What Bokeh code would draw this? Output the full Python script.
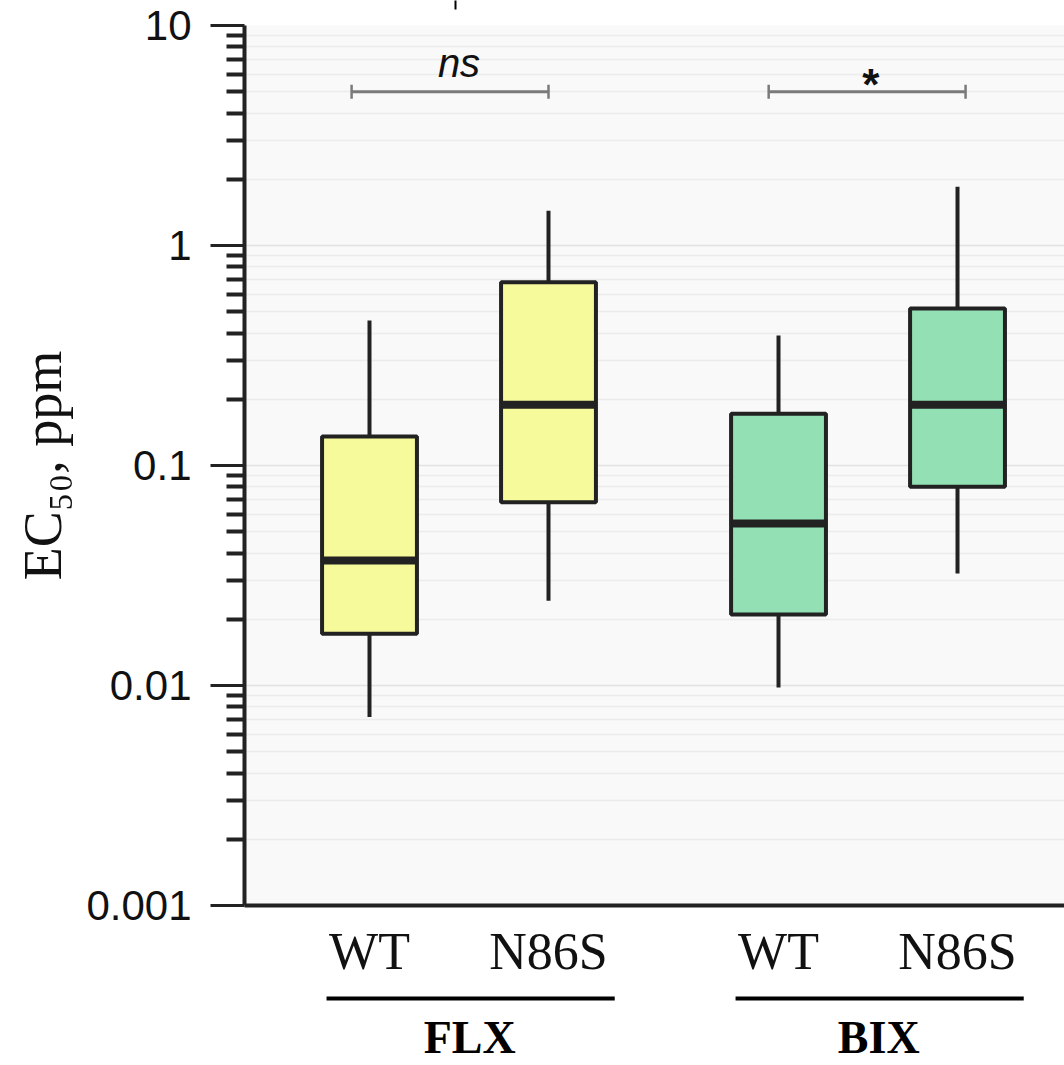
import math
from bokeh.plotting import figure
from bokeh.layouts import column
from bokeh.models import Range1d, FixedTicker, LinearAxis
from bokeh.embed import file_html
from bokeh.resources import INLINE
from bokeh.core.properties import value

# ---------------- data ----------------
groups = ["FLX", "FLX", "BIX", "BIX"]
variants = ["WT", "N86S", "WT", "N86S"]
whisker_low = [0.0072, 0.0243, 0.0098, 0.0323]
q1 = [0.0172, 0.068, 0.021, 0.080]
median = [0.037, 0.189, 0.0545, 0.189]
q3 = [0.1355, 0.68, 0.172, 0.517]
whisker_high = [0.456, 1.44, 0.39, 1.85]

group_names = ["FLX", "BIX"]
group_colors = {"FLX": "#f7fa9b", "BIX": "#93e0b5"}
sig_labels = ["ns", "*"]
sig_level = 5.0

y_tick_values = [0.001, 0.01, 0.1, 1, 10]
y_tick_labels = ["0.001", "0.01", "0.1", "1", "10"]

# ---------------- layout ----------------
W = 1064
top_h = 25            # band above the plot frame
frame_h = 880
axis_h = 85           # x-axis band under the frame
bottom_h = 75         # strip with group underlines / names
left = 244
frame_w = W - left
decades = math.log10(y_tick_values[-1] / y_tick_values[0])
px_per_decade = frame_h / decades
unit_px = 179.0          # pixels per x unit
group_gap = 1.285        # distance between groups (x units)
box_w = 0.53
sig_pad = [(-0.10, 0.0), (-0.055, 0.045)]   # bar end offsets per comparison

xpos = []
cur = 1.0
for i, g in enumerate(groups):
    if i > 0:
        cur += 1.0 if groups[i - 1] == g else group_gap
    xpos.append(cur)

x_start = xpos[0] - 125 / unit_px
x_end = x_start + frame_w / unit_px
xr = Range1d(x_start, x_end)


def shift(yv, px):
    """value lying px pixels above yv on the log axis"""
    return yv * 10 ** (px / px_per_decade)


minor = [m * 10 ** e for e in range(-3, 1) for m in range(2, 10)]

p = figure(width=W, height=top_h + frame_h + axis_h,
           x_range=xr,
           y_range=Range1d(y_tick_values[0], y_tick_values[-1]),
           y_axis_type="log",
           output_backend="svg", toolbar_location=None,
           min_border_left=left, min_border_top=top_h,
           min_border_bottom=axis_h, min_border_right=0,
           background_fill_color="#f9f9f9", border_fill_color="white",
           outline_line_color=None)

AX = "#222222"

# y axis
ya = p.yaxis[0]
ya.ticker = FixedTicker(ticks=y_tick_values, minor_ticks=minor)
ya.major_label_overrides = dict(zip(y_tick_values, y_tick_labels))
ya.major_tick_out = 34
ya.major_tick_in = 0
ya.minor_tick_out = 18
ya.minor_tick_in = 0
ya.major_tick_line_width = 3
ya.minor_tick_line_width = 4
ya.major_tick_line_color = AX
ya.minor_tick_line_color = AX
ya.axis_line_width = 4
ya.axis_line_color = AX
ya.major_label_text_font = "Liberation Sans"
ya.major_label_text_font_size = "42px"
ya.major_label_text_color = "#111111"
ya.major_label_standoff = 19
ya.axis_label = "EC\u2085\u2080, ppm"
ya.axis_label_text_font = "Liberation Serif"
ya.axis_label_text_font_size = "54px"
ya.axis_label_text_font_style = "normal"
ya.axis_label_text_color = "#111111"
ya.axis_label_standoff = 10

# x axis
xa = p.xaxis[0]
xa.ticker = FixedTicker(ticks=xpos)
xa.major_label_overrides = dict(zip(xpos, variants))
xa.major_tick_out = 0
xa.major_tick_in = 0
xa.minor_tick_out = 0
xa.minor_tick_in = 0
xa.axis_line_width = 4
xa.axis_line_color = AX
xa.major_label_text_font = "Liberation Serif"
xa.major_label_text_font_size = "52px"
xa.major_label_text_color = "#111111"
xa.major_label_standoff = 17

# small tick mark at the very top of the crop: an unlabeled top axis whose
# single tick is dashed so that only its outer part shows
mark_x = (xpos[0] + xpos[1]) / 2 - 0.02
marker_axis = LinearAxis(ticker=FixedTicker(ticks=[mark_x]), axis_line_color=None,
                         major_tick_out=top_h, major_tick_in=0, minor_tick_out=0,
                         minor_tick_in=0, major_tick_line_width=2,
                         major_tick_line_color="#000000",
                         major_tick_line_dash="9 60",
                         major_label_overrides={mark_x: ""},
                         major_label_text_font_size="0px", major_label_standoff=0)
p.add_layout(marker_axis, "above")

# grids
p.xgrid.visible = False
p.ygrid.grid_line_color = "#e2e2e2"
p.ygrid.grid_line_width = 1.5
p.ygrid.minor_grid_line_color = "#ececec"
p.ygrid.minor_grid_line_width = 1.5

# boxes
src = dict(
    x=xpos, lo=whisker_low, q1=q1, med=median, q3=q3, hi=whisker_high,
    color=[group_colors[g] for g in groups],
    l=[x - box_w / 2 for x in xpos], r=[x + box_w / 2 for x in xpos],
)
p.segment(x0="x", y0="lo", x1="x", y1="hi", source=src,
          line_width=4, line_color=AX)
p.vbar(x="x", width=box_w, bottom="q1", top="q3", source=src,
       fill_color="color", line_color=AX, line_width=4)
p.segment(x0="l", y0="med", x1="r", y1="med", source=src,
          line_width=8, line_color=AX)

# significance bars
SIG = "#7a7a7a"
for gname, lab, (pl, pr) in zip(group_names, sig_labels, sig_pad):
    gx = [x for x, g in zip(xpos, groups) if g == gname]
    x0, x1 = gx[0] + pl, gx[-1] + pr
    p.segment(x0=[x0], y0=[sig_level], x1=[x1], y1=[sig_level],
              line_color=SIG, line_width=3)
    p.segment(x0=[x0, x1], y0=[shift(sig_level, -7)] * 2,
              x1=[x0, x1], y1=[shift(sig_level, 7)] * 2,
              line_color=SIG, line_width=2.5)
    if lab == "ns":
        p.text(x=[(x0 + x1) / 2 + 0.05], y=[shift(sig_level, 29)], text=[lab],
               text_align="center", text_baseline="alphabetic",
               text_font=value("Liberation Sans"), text_font_style="italic",
               text_font_size="40px", text_color="#111111")
    else:
        p.text(x=[(x0 + x1) / 2 + 0.02], y=[shift(sig_level, 7)], text=[lab],
               text_align="center", text_baseline="alphabetic",
               text_font=value("Liberation Sans"), text_font_style="bold",
               text_font_size="44px", text_color="#111111")

# ---------------- strip below: group underlines and names ----------------
pb = figure(width=W, height=bottom_h, x_range=xr, y_range=Range1d(0, bottom_h),
            output_backend="svg", toolbar_location=None,
            x_axis_location=None, y_axis_location=None,
            min_border_left=left, min_border_right=0,
            min_border_top=0, min_border_bottom=0,
            background_fill_color="white", border_fill_color="white",
            outline_line_color=None)
pb.xgrid.visible = False
pb.ygrid.visible = False
for gname in group_names:
    gx = [x for x, g in zip(xpos, groups) if g == gname]
    mid = sum(gx) / len(gx)
    pb.segment(x0=[mid - 0.74], y0=[bottom_h - 8], x1=[mid + 0.87], y1=[bottom_h - 8],
               line_width=4, line_color="#000000")
    pb.text(x=[mid + 0.06], y=[bottom_h - 47], text=[gname],
            text_align="center", text_baseline="alphabetic",
            text_font=value("Liberation Serif"), text_font_style="bold",
            text_font_size="46px", text_color="#000000")

layout = column(p, pb, spacing=0)
open("out.html", "w").write(file_html(layout, INLINE))
